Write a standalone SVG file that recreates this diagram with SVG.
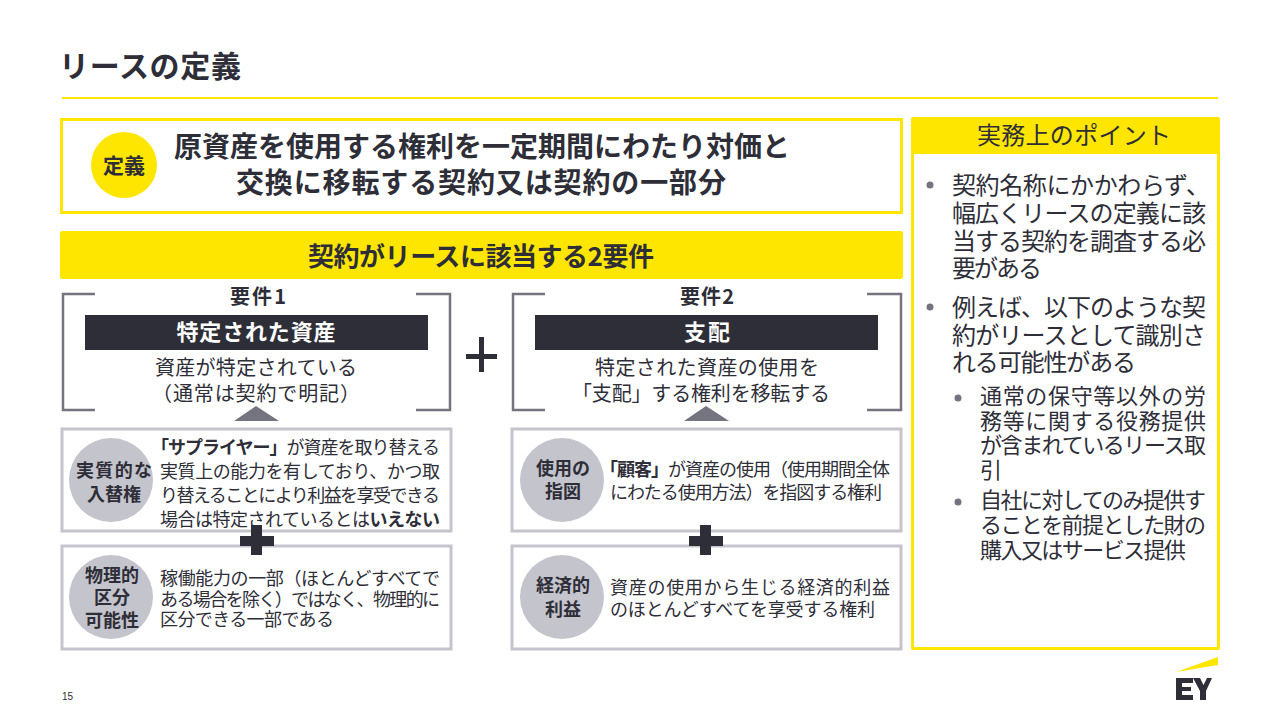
<svg xmlns="http://www.w3.org/2000/svg" width="1280" height="720" viewBox="0 0 1280 720">
<style>
text{font-family:"Noto Sans CJK JP","Liberation Sans",sans-serif;fill:#2e2e38;font-size:18px}
.b{font-weight:700}.m{text-anchor:middle}
.d{font-size:28px;font-weight:700}
.h{font-size:20px;font-weight:700}
.r{font-size:20px}
.rr{font-size:24px}
.s{font-size:22px}
.c{font-size:18px;font-weight:700;text-anchor:middle}
.br{fill:none;stroke:#747480;stroke-width:2.5}
.box{fill:#fff;stroke:#c4c4cd;stroke-width:3}
.circ{fill:#c4c4cd}
.plus{fill:#2e2e38}
.bul{fill:#747480}
</style>
<rect width="1280" height="720" fill="#fff"/>
<text id="title" x="59" y="77" class="b" style="font-size:30px" textLength="182">リースの定義</text>
<rect x="62" y="97" width="1156" height="2" fill="#ffe600"/>
<g id="definition">
<rect x="61.500" y="119.500" width="840" height="93" fill="#fff" stroke="#ffe600" stroke-width="3"/>
<circle cx="124" cy="165" r="33" fill="#ffe600"/>
<text x="124" y="173" class="b m" style="font-size:21px">定義</text>
<text x="174" y="157" class="d" textLength="616">原資産を使用する権利を一定期間にわたり対価と</text>
<text x="481" y="193" class="d m" textLength="490">交換に移転する契約又は契約の一部分</text>
</g>
<g id="banner">
<rect x="60" y="231" width="843" height="48" rx="2" fill="#ffe600"/>
<text x="481" y="266" class="b m" style="font-size:26px" textLength="346">契約がリースに該当する2要件</text>
</g>
<g id="req1">
<path class="br" d="M95 294H63V410H95M416 294H450V410H416"/>
<text x="258" y="304" class="h m" textLength="56">要件1</text>
<rect x="85" y="315" width="343" height="35" class="plus"/>
<text x="256" y="340" class="b m" style="font-size:22px;fill:#fff" textLength="159">特定された資産</text>
<text x="256" y="375" class="r m" textLength="202">資産が特定されている</text>
<text x="256" y="401" class="r m" textLength="208">（通常は契約で明記）</text>
<path d="M234 421L256 406L279 421Z" fill="#747480"/>
</g>
<g id="req2">
<path class="br" d="M545 294H513V410H545M867 294H901V410H867"/>
<text x="707" y="304" class="h m" textLength="54">要件2</text>
<rect x="535" y="315" width="343" height="35" class="plus"/>
<text x="707" y="340" class="b m" style="font-size:22px;fill:#fff" textLength="46">支配</text>
<text x="707" y="375" class="r m" textLength="224">特定された資産の使用を</text>
<text x="701" y="401" class="r m" textLength="258">「支配」する権利を移転する</text>
<path d="M684 421L706 406L729 421Z" fill="#747480"/>
</g>
<g id="plus-main"><path class="plus" d="M479 337H484V354H497V359H484V372H479V359H466V354H479Z"/></g>
<g id="n1">
<rect x="62" y="429" width="389" height="102" class="box"/>
<circle cx="111" cy="480" r="42" class="circ"/>
<text x="114" y="477" class="c" textLength="76">実質的な</text>
<text x="114" y="501" class="c">入替権</text>
<text x="151" y="454" textLength="289"><tspan class="b">「サプライヤー」</tspan>が資産を取り替える</text>
<text x="160" y="478" textLength="280">実質上の能力を有しており、かつ取</text>
<text x="160" y="502" textLength="280">り替えることにより利益を享受できる</text>
<text x="160" y="526" textLength="280">場合は特定されているとは<tspan class="b">いえない</tspan></text>
</g>
<g id="n2">
<rect x="62" y="546" width="389" height="103" class="box"/>
<circle cx="111" cy="597" r="42" class="circ"/>
<text x="112" y="582" class="c">物理的</text>
<text x="112" y="604" class="c">区分</text>
<text x="112" y="627" class="c">可能性</text>
<text x="160" y="585" textLength="280">稼働能力の一部（ほとんどすべてで</text>
<text x="160" y="606" textLength="280">ある場合を除く）ではなく、物理的に</text>
<text x="160" y="626" textLength="174">区分できる一部である</text>
</g>
<g id="n3">
<rect x="512" y="429" width="389" height="102" class="box"/>
<circle cx="562" cy="480" r="42" class="circ"/>
<text x="563" y="475" class="c">使用の</text>
<text x="563" y="498" class="c">指図</text>
<text x="600" y="476" textLength="290"><tspan class="b">「顧客」</tspan>が資産の使用（使用期間全体</text>
<text x="610" y="499" textLength="272">にわたる使用方法）を指図する権利</text>
</g>
<g id="n4">
<rect x="512" y="546" width="389" height="103" class="box"/>
<circle cx="562" cy="597" r="42" class="circ"/>
<text x="563" y="592" class="c">経済的</text>
<text x="563" y="616" class="c">利益</text>
<text x="610" y="594" textLength="280">資産の使用から生じる経済的利益</text>
<text x="610" y="616" textLength="265">のほとんどすべてを享受する権利</text>
</g>
<g id="connectors">
<path class="plus" d="M251 525H262V536H274V546H262V555H251V546H240V536H251Z"/>
<path class="plus" d="M700 525H711V536H723V546H711V555H700V546H689V536H700Z"/>
</g>
<g id="points">
<rect x="911" y="117" width="309" height="533" rx="2" fill="#ffe600"/>
<rect x="914" y="154" width="303" height="493" fill="#fff"/>
<text x="1074" y="144" class="m" style="font-size:24px" textLength="194">実務上のポイント</text>
<circle cx="930" cy="185" r="3.500" class="bul"/>
<text x="952" y="194" class="rr" textLength="258">契約名称にかかわらず、</text>
<text x="952" y="222" class="rr" textLength="254">幅広くリースの定義に該</text>
<text x="952" y="250" class="rr" textLength="254">当する契約を調査する必</text>
<text x="952" y="277" class="rr" textLength="90">要がある</text>
<circle cx="930" cy="307" r="3.500" class="bul"/>
<text x="952" y="316" class="rr" textLength="254">例えば、以下のような契</text>
<text x="952" y="344" class="rr" textLength="254">約がリースとして識別さ</text>
<text x="952" y="371" class="rr" textLength="184">れる可能性がある</text>
<circle cx="958" cy="398" r="3.500" class="bul"/>
<text x="980" y="404" class="s" textLength="226">通常の保守等以外の労</text>
<text x="980" y="429" class="s" textLength="226">務等に関する役務提供</text>
<text x="980" y="453" class="s" textLength="226">が含まれているリース取</text>
<text x="980" y="478" class="s">引</text>
<circle cx="958" cy="502" r="3.500" class="bul"/>
<text x="980" y="508" class="s" textLength="226">自社に対してのみ提供す</text>
<text x="980" y="533" class="s" textLength="226">ることを前提とした財の</text>
<text x="980" y="558" class="s" textLength="206">購入又はサービス提供</text>
</g>
<text id="page" x="62" y="700" style="font-size:10px;font-family:'Liberation Sans',sans-serif">15</text>
<g id="logo">
<path d="M1176 672L1218 657V665Z" fill="#ffe600"/>
<path class="plus" d="M1176 678H1193V683H1182V687H1191V691H1182V695H1193V700H1176Z"/>
<path class="plus" d="M1193 678H1200L1203.500 685L1207 678H1212L1206 691V700H1200V691Z"/>
</g>
</svg>
